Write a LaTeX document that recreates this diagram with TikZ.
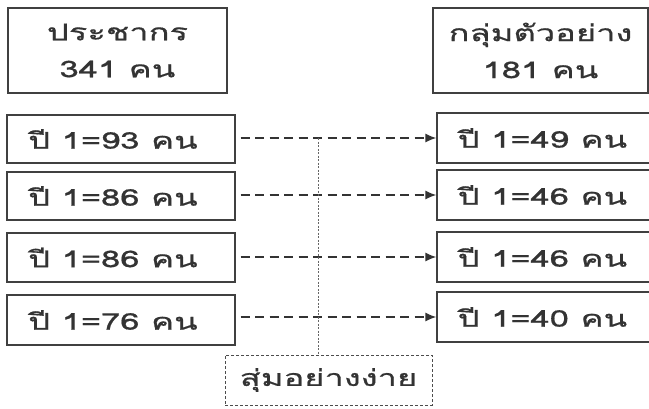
\documentclass[tikz,border=0pt]{standalone}
\usepackage{fontspec}
\newfontfamily\thai[Script=Thai,FakeStretch=1.5,FakeBold=0.7]{Loma}
\usetikzlibrary{arrows.meta}
\begin{document}
\begin{tikzpicture}[x=1pt,y=-1pt,
  box/.style={draw=black!75,line width=1.3pt,rectangle,inner sep=0pt,font=\thai\fontsize{23}{37}\selectfont,text=black!80},
  conn/.style={draw=black!80,line width=1.4pt,dash pattern=on 9pt off 5.5pt,-{Latex[length=11pt,width=9pt]},shorten <=5pt},
  randbox/.style={draw=black!70,line width=0.8pt,dash pattern=on 3pt off 2pt,rectangle,inner sep=0pt,font=\thai\fontsize{23}{30}\selectfont,text=black!80},
  vline/.style={draw=black!60,line width=0.9pt,dash pattern=on 2pt off 1.5pt}]
\useasboundingbox (0,0) rectangle (649,408);
\clip (0,0) rectangle (649,408);
\fill[white] (0,0) rectangle (649,408);
% top boxes
\node[box,minimum width=219pt,minimum height=85pt,align=center] (pop) at (117.5,50.5) {ประชากร\\341 คน};
\node[box,minimum width=215pt,minimum height=85pt,align=center] (samp) at (540.5,50.5) {กลุ่มตัวอย่าง\\181 คน};
% left boxes
\node[box,minimum width=228pt,minimum height=48pt] (L1) at (121,139) {\hspace*{-16pt}ปี 1=93 คน};
\node[box,minimum width=228pt,minimum height=48pt] (L2) at (121,196) {\hspace*{-16pt}ปี 1=86 คน};
\node[box,minimum width=228pt,minimum height=49pt] (L3) at (121,257.5) {\hspace*{-16pt}ปี 1=86 คน};
\node[box,minimum width=228pt,minimum height=50pt] (L4) at (121,320) {\hspace*{-16pt}ปี 1=76 คน};
% right boxes
\node[box,minimum width=219pt,minimum height=50pt] (R1) at (546.5,138) {\hspace*{-8pt}ปี 1=49 คน};
\node[box,minimum width=219pt,minimum height=50pt] (R2) at (546.5,195) {\hspace*{-8pt}ปี 1=46 คน};
\node[box,minimum width=219pt,minimum height=50pt] (R3) at (546.5,257) {\hspace*{-8pt}ปี 1=46 คน};
\node[box,minimum width=219pt,minimum height=50pt] (R4) at (546.5,317) {\hspace*{-8pt}ปี 1=40 คน};
% random sampling box
\node[randbox,minimum width=207pt,minimum height=50pt] (rand) at (328.5,380) {สุ่มอย่างง่าย};
% connectors
\draw[conn] (L1.east |- R1.west) -- (R1.west);
\draw[conn] (L2.east |- R2.west) -- (R2.west);
\draw[conn] (L3.east |- R3.west) -- (R3.west);
\draw[conn] (L4.east |- R4.west) -- (R4.west);
\coordinate (vtop) at (318,138);
\draw[vline] (vtop) -- (vtop |- rand.north);
\end{tikzpicture}
\end{document}
